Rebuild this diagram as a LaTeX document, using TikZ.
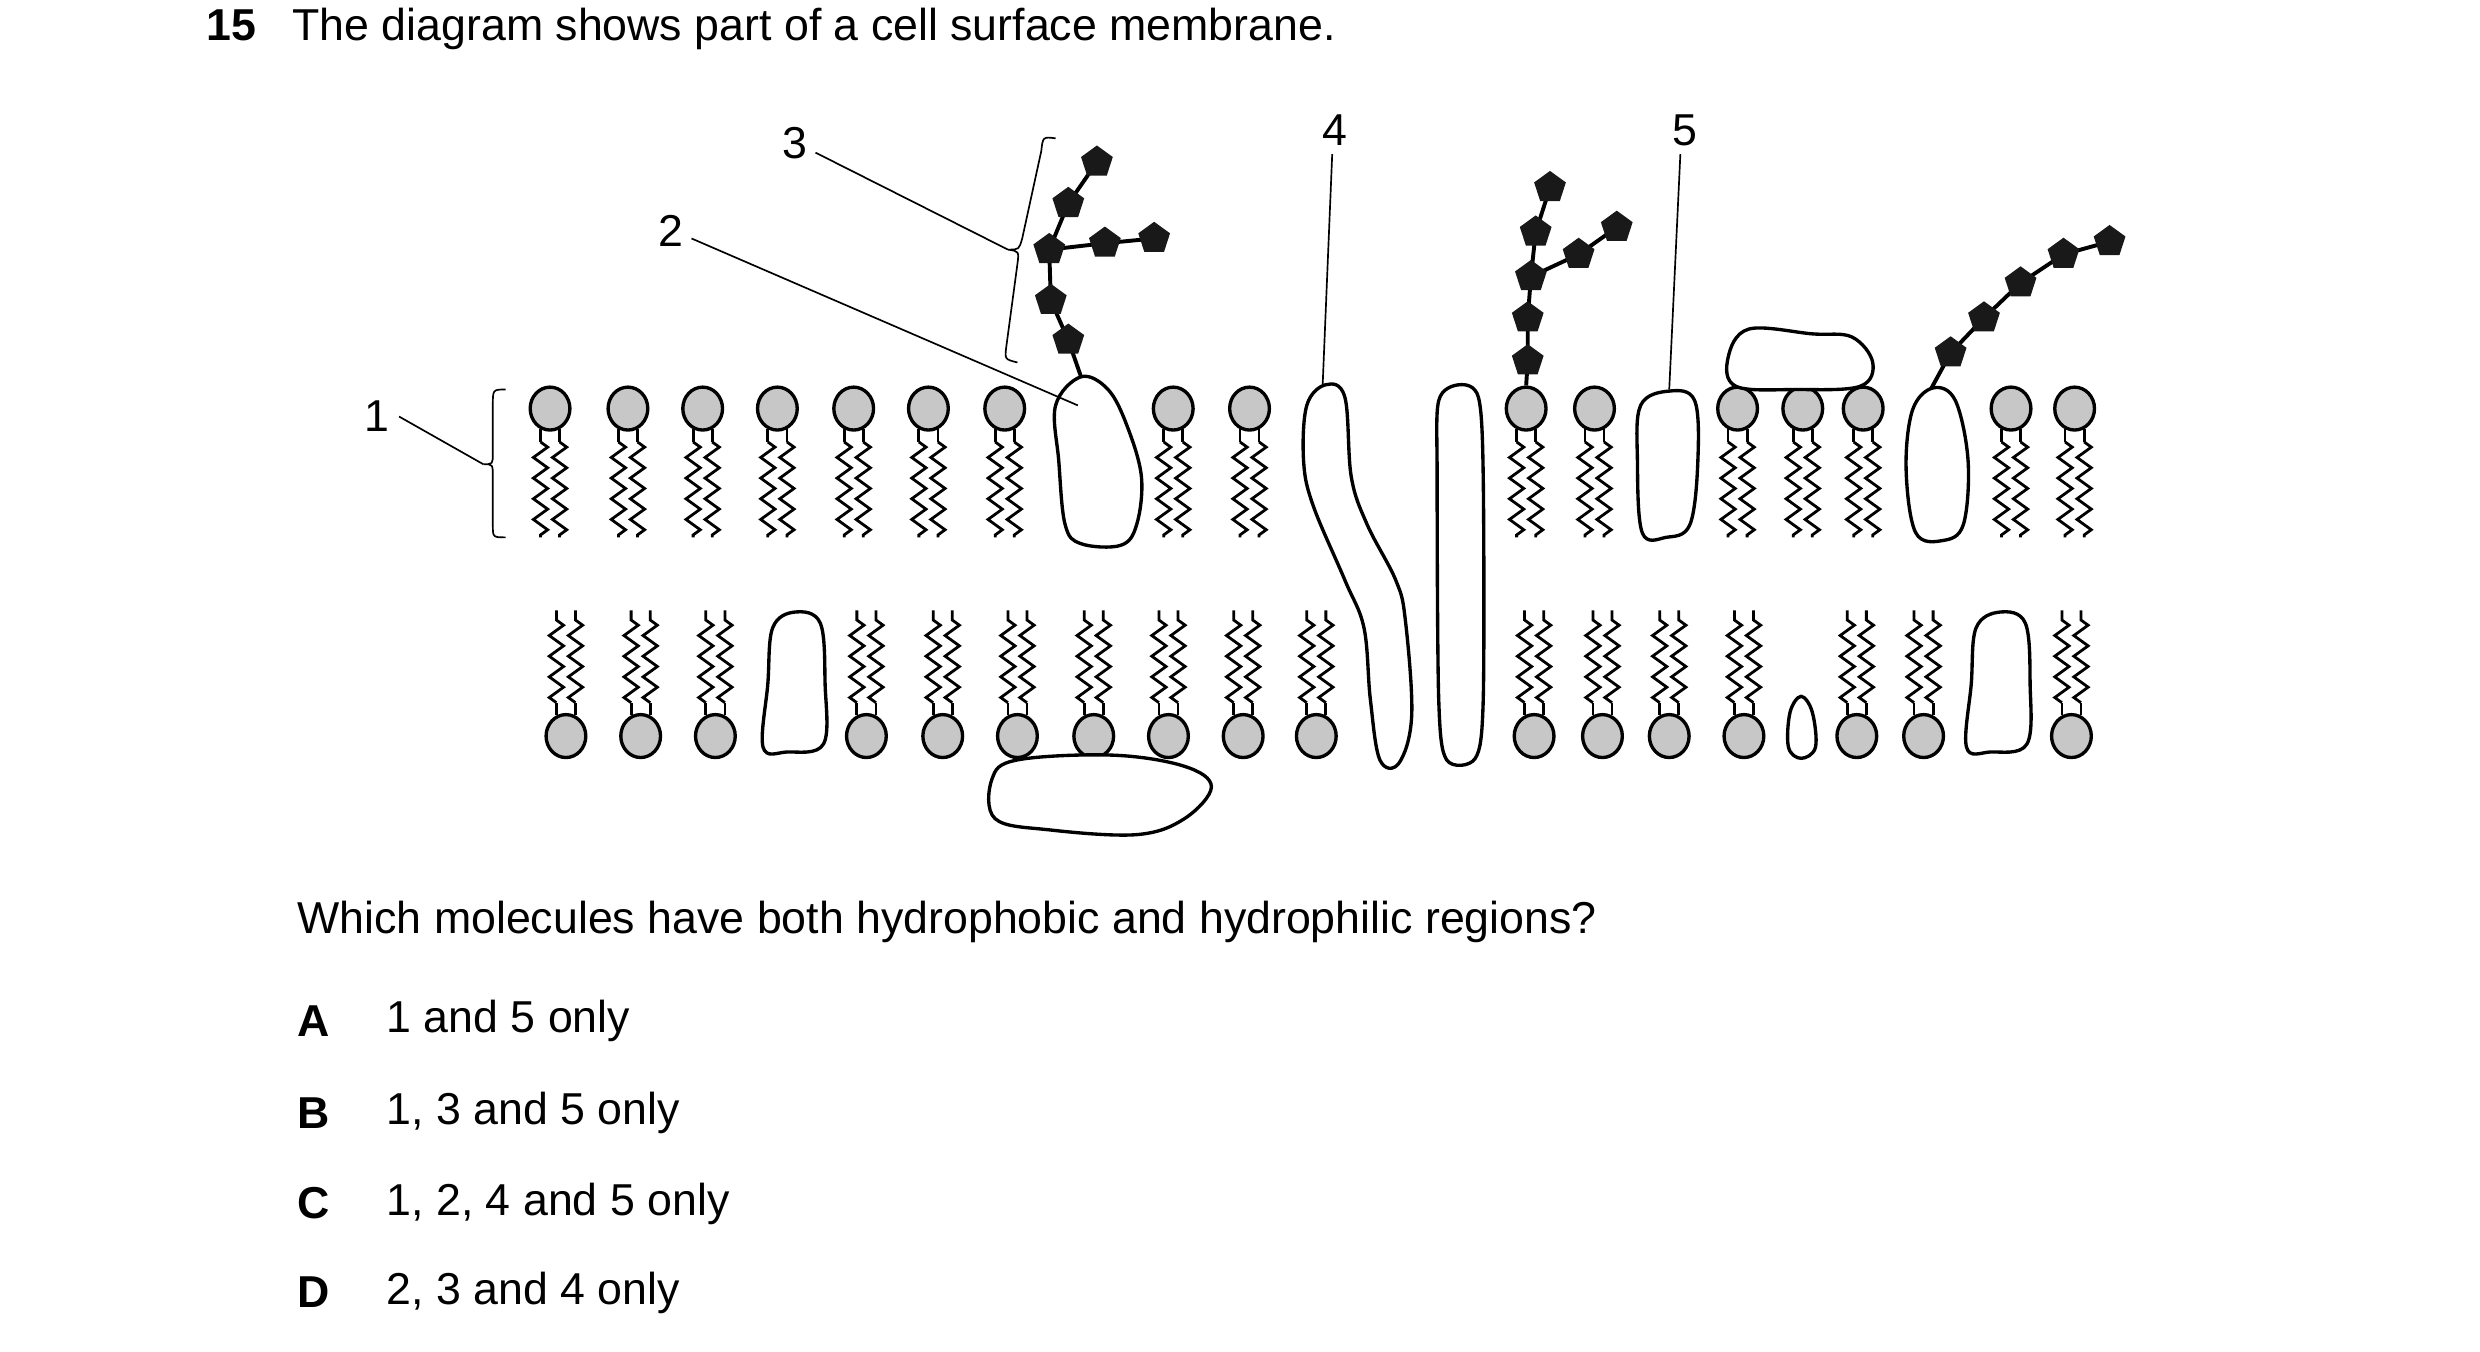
\documentclass[tikz,border=0pt]{standalone}
\usepackage{fontspec}
\setmainfont{Liberation Sans}
\usetikzlibrary{shapes.geometric,decorations.pathmorphing,decorations.pathreplacing}
\begin{document}
\begin{tikzpicture}[x=0.02cm,y=-0.02cm,
  head/.style={draw,line width=1.2pt,fill=black!22,ellipse,minimum width=0.5cm,minimum height=0.54cm,inner sep=0},
  tail/.style={line width=1pt,decorate,decoration={zigzag,segment length=0.26cm,amplitude=0.09cm}},
  prot/.style={draw,line width=1.2pt,fill=white},
  sug/.style={regular polygon,regular polygon sides=5,fill=black!90,inner sep=0,minimum size=0.42cm},
  chain/.style={line width=1.4pt},
  lab/.style={font=\fontsize{16}{19}\selectfont},
  lead/.style={line width=0.6pt}]
\useasboundingbox (0,0) rectangle (1560,850);
% texts
\node[lab,anchor=west] (q) at (124,18) {\textbf{15}\hspace{0.45cm}The diagram shows part of a cell surface membrane.};
\node[lab,anchor=west] (qq) at (181,580) {Which molecules have both hydrophobic and hydrophilic regions?};
\foreach \l/\t/\y [count=\i] in {A/1 and 5 only/642,B/{1, 3 and 5 only}/700,C/{1, 2, 4 and 5 only}/757,D/{2, 3 and 4 only}/813}{
  \node[lab,anchor=west,font=\fontsize{16}{19}\selectfont\bfseries] (L\i) at (181,\y) {\l};
  \node[lab,anchor=west] (T\i) at (237,\y) {\t};}
% top layer
\foreach \x in {346,395,442,489,537,584,632,738,786,960,1003,1093,1134,1172,1265,1305}{
  \draw[line width=1pt] (\x-6,270)--(\x-6,278) (\x+6,270)--(\x+6,278);
  \draw[tail] (\x-6,278)--(\x-6,338);
  \draw[tail] (\x+6,278)--(\x+6,338);
  \node[head] (h\x) at (\x,257) {};}
% bottom layer
\foreach \x in {356,403,450,545,593,640,688,735,782,828,965,1008,1050,1097,1168,1210,1303}{
  \draw[line width=1pt] (\x-6,450)--(\x-6,442) (\x+6,450)--(\x+6,442);
  \draw[tail] (\x-6,442)--(\x-6,384);
  \draw[tail] (\x+6,442)--(\x+6,384);
  \node[head] (b\x) at (\x,463) {};}
% proteins
\draw[prot] plot[smooth cycle,tension=0.6] coordinates{(680,237)(697,245)(709,268)(718,300)(715,330)(705,343)(680,342)(670,330)(666,290)(664,255)};
\draw[prot] plot[smooth cycle,tension=0.6] coordinates{(834,242)(846,250)(850,300)(860,330)(878,365)(884,390)(888,450)(880,480)(868,478)(862,440)(858,395)(846,365)(826,318)(820,290)(822,255)};
\draw[prot] plot[smooth cycle,tension=0.5] coordinates{(918,242)(930,250)(933,300)(933,440)(928,477)(910,478)(905,440)(904,300)(905,252)};
\draw[prot] plot[smooth cycle,tension=0.6] coordinates{(1050,246)(1066,252)(1068,290)(1063,330)(1048,338)(1033,335)(1030,290)(1032,255)};
\draw[prot] plot[smooth cycle,tension=0.6] coordinates{(1100,207)(1140,210)(1165,212)(1178,228)(1170,243)(1130,245)(1092,243)(1087,225)};
\draw[prot] plot[smooth cycle,tension=0.6] coordinates{(1216,244)(1230,252)(1238,290)(1235,330)(1222,340)(1205,335)(1199,295)(1203,258)};
\draw[prot] plot[smooth cycle,tension=0.6] coordinates{(500,385)(516,392)(519,430)(518,468)(495,473)(480,470)(483,430)(486,395)};
\draw[prot] plot[smooth cycle,tension=0.6] coordinates{(640,478)(700,475)(745,482)(762,495)(745,515)(715,525)(660,522)(626,515)(624,490)};
\draw[prot] plot[smooth cycle,tension=0.6] coordinates{(1133,438)(1140,448)(1142,470)(1133,477)(1125,470)(1126,448)};
\draw[prot] plot[smooth cycle,tension=0.6] coordinates{(1258,385)(1274,392)(1277,430)(1275,468)(1252,473)(1237,470)(1240,430)(1243,395)};
% sugar chains
\coordinate (s0) at (680,237);
\draw[chain] (s0)--(672,214)--(661,189)--(660,157)--(672,128)--(690,102) (660,157)--(695,153)--(726,150);
\foreach \p in {(672,214),(661,189),(660,157),(672,128),(690,102),(695,153),(726,150)} \node[sug] at \p {};
\draw[chain] (h960.north)--(961,227)--(961,200)--(963,174)--(966,146)--(975,118) (963,174)--(993,160)--(1017,143);
\foreach \p in {(961,227),(961,200),(963,174),(966,146),(975,118),(993,160),(1017,143)} \node[sug] at \p {};
\coordinate (s1) at (1215,244);
\draw[chain] (s1)--(1227,222)--(1248,200)--(1271,178)--(1298,160)--(1327,152);
\foreach \p in {(1227,222),(1248,200),(1271,178),(1298,160),(1327,152)} \node[sug] at \p {};
% labels and leaders
\node[lab] (n1) at (237,262) {1};
\node[lab] (n2) at (422,145) {2};
\node[lab] (n3) at (500,90) {3};
\node[lab] (n4) at (840,82) {4};
\node[lab] (n5) at (1060,82) {5};
\draw[lead] (318,245) .. controls (310,245) .. (310,255) -- (310,285) .. controls (310,292) .. (304,292) .. controls (310,292) .. (310,300) -- (310,330) .. controls (310,338) .. (318,338);
\coordinate (t1) at (304,292);
\draw[lead] (n1.east) -- (t1);
\draw[lead] (664,87) .. controls (656,86) .. (655,95) -- (643,150) .. controls (641,157) .. (634,157) .. controls (641,158) .. (640,166) -- (633,218) .. controls (632,226) .. (640,228);
\coordinate (t3) at (634,157);
\draw[lead] (513,96) -- (t3);
\coordinate (t2) at (678,255);
\draw[lead] (435,150) -- (t2);
\coordinate (t4) at (832,242);
\draw[lead] (838,97) -- (t4);
\coordinate (t5) at (1050,245);
\draw[lead] (1057,97) -- (t5);
\end{tikzpicture}
\end{document}
